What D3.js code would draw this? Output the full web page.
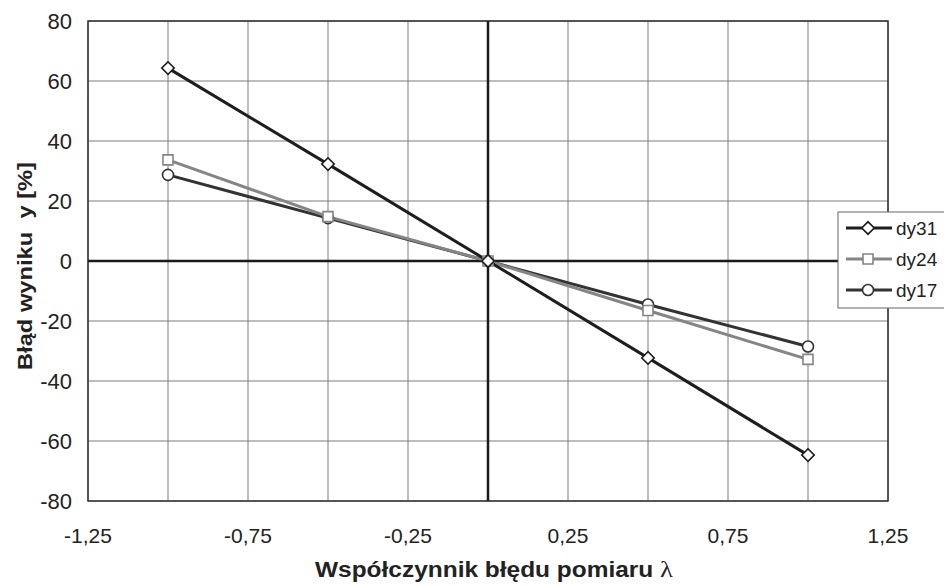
<!DOCTYPE html>
<html lang="pl">
<head>
    <meta charset="UTF-8">
    <title>Błąd wyniku</title>
    <script src="https://d3js.org/d3.v7.min.js"></script>
    <style>
        body, html {
            margin: 0;
            padding: 0;
            background: #fff;
        }
        text {
            font-family: "Liberation Sans", Arial, sans-serif;
            fill: #222;
        }
        .grid line {
            stroke: #7c7c7c;
            stroke-width: 1px;
        }
    </style>
</head>
<body>
    <script>
        // data
        const lambdas = [-1, -0.5, 0, 0.5, 1];
        const dy31 = [64.3, 32.3, 0, -32.3, -64.7];
        const dy24 = [33.7, 14.8, 0, -16.5, -32.8];
        const dy17 = [28.7, 14.3, 0, -14.5, -28.5];
        const seriesNames = ["dy31", "dy24", "dy17"];
        const xTicks = [-1.25, -0.75, -0.25, 0.25, 0.75, 1.25];
        const xGrid = [-1.25, -1, -0.75, -0.5, -0.25, 0, 0.25, 0.5, 0.75, 1, 1.25];
        const yTicks = [-80, -60, -40, -20, 0, 20, 40, 60, 80];

        const width = 944, height = 587;
        const margin = {top: 21, right: 56, bottom: 86, left: 88};

        const svg = d3.select("body").append("svg")
            .attr("width", width)
            .attr("height", height);

        const x = d3.scaleLinear().domain([-1.25, 1.25]).range([margin.left, width - margin.right]);
        const y = d3.scaleLinear().domain([-80, 80]).range([height - margin.bottom, margin.top]);

        // polish style numbers: comma decimal, plain hyphen minus
        const fmt = d => d3.format(".2f")(d).replace(".", ",").replace("\u2212", "-");

        // grid
        const grid = svg.append("g").attr("class", "grid");
        grid.selectAll(".v").data(xGrid).enter().append("line")
            .attr("x1", d => x(d)).attr("x2", d => x(d))
            .attr("y1", y(80)).attr("y2", y(-80));
        grid.selectAll(".h").data(yTicks).enter().append("line")
            .attr("x1", x(-1.25)).attr("x2", x(1.25))
            .attr("y1", d => y(d)).attr("y2", d => y(d));

        // plot border
        svg.append("rect")
            .attr("x", x(-1.25)).attr("y", y(80))
            .attr("width", x(1.25) - x(-1.25))
            .attr("height", y(-80) - y(80))
            .attr("fill", "none")
            .attr("stroke", "#333")
            .attr("stroke-width", 1.5);

        // zero axes
        svg.append("line")
            .attr("x1", x(-1.25)).attr("x2", x(1.25))
            .attr("y1", y(0)).attr("y2", y(0))
            .attr("stroke", "#1a1a1a").attr("stroke-width", 2.5);
        svg.append("line")
            .attr("x1", x(0)).attr("x2", x(0))
            .attr("y1", y(80)).attr("y2", y(-80))
            .attr("stroke", "#1a1a1a").attr("stroke-width", 2.5);

        // tick labels
        svg.append("g").selectAll("text").data(yTicks).enter().append("text")
            .attr("x", 72).attr("y", d => y(d))
            .attr("dy", "0.36em")
            .attr("text-anchor", "end")
            .style("font-size", "22px")
            .text(d => String(d));

        svg.append("g").selectAll("text").data(xTicks).enter().append("text")
            .attr("x", d => x(d)).attr("y", 543)
            .attr("text-anchor", "middle")
            .style("font-size", "21px")
            .text(fmt);

        // axis titles
        const xt = svg.append("text")
            .attr("x", 315).attr("y", 577)
            .attr("textLength", 358)
            .attr("lengthAdjust", "spacingAndGlyphs")
            .style("font-size", "22px")
            .style("font-weight", "bold")
            .text("Współczynnik błędu pomiaru ");
        xt.append("tspan")
            .style("font-family", "'Liberation Serif', serif")
            .style("font-weight", "normal")
            .style("font-size", "24px")
            .text("λ");

        svg.append("text")
            .attr("transform", `translate(32, 370) rotate(-90)`)
            .attr("textLength", 208)
            .attr("lengthAdjust", "spacingAndGlyphs")
            .style("font-size", "20px")
            .style("font-weight", "bold")
            .style("white-space", "pre")
            .text("Błąd wyniku  y [%]");

        // series
        const diamond = d3.symbol().type(d3.symbolSquare).size(78);
        const series = [
            {name: seriesNames[0], values: dy31, color: "#1e1e1e", shape: diamond, rot: 45},
            {name: seriesNames[1], values: dy24, color: "#858585", shape: d3.symbol().type(d3.symbolSquare).size(100), rot: 0},
            {name: seriesNames[2], values: dy17, color: "#333", shape: d3.symbol().type(d3.symbolCircle).size(95), rot: 0}
        ];

        const line = d3.line().x((d, i) => x(lambdas[i])).y(d => y(d));

        // draw in reverse so dy31 stays on top
        series.slice().reverse().forEach(s => {
            svg.append("path")
                .datum(s.values)
                .attr("fill", "none")
                .attr("stroke", s.color)
                .attr("stroke-width", 3)
                .attr("d", line);
        });
        series.slice().reverse().forEach(s => {
            svg.append("g").selectAll("path").data(s.values).enter().append("path")
                .attr("transform", (d, i) => `translate(${x(lambdas[i])},${y(d)}) rotate(${s.rot})`)
                .attr("d", s.shape)
                .attr("fill", "#fff")
                .attr("stroke", s.color)
                .attr("stroke-width", 1.6);
        });

        // legend
        const legend = svg.append("g").attr("transform", "translate(838, 212)");
        legend.append("rect")
            .attr("width", 110).attr("height", 96)
            .attr("fill", "#fff")
            .attr("stroke", "#666")
            .attr("stroke-width", 1);

        series.forEach((s, i) => {
            const g = legend.append("g").attr("transform", `translate(0, ${16 + i * 31})`);
            g.append("line")
                .attr("x1", 8).attr("x2", 54)
                .attr("stroke", s.color)
                .attr("stroke-width", 3);
            g.append("path")
                .attr("transform", `translate(30,0) rotate(${s.rot})`)
                .attr("d", s.shape)
                .attr("fill", "#fff")
                .attr("stroke", s.color)
                .attr("stroke-width", 1.6);
            g.append("text")
                .attr("x", 58).attr("dy", "0.36em")
                .style("font-size", "19px")
                .text(s.name);
        });
    </script>
</body>
</html>
